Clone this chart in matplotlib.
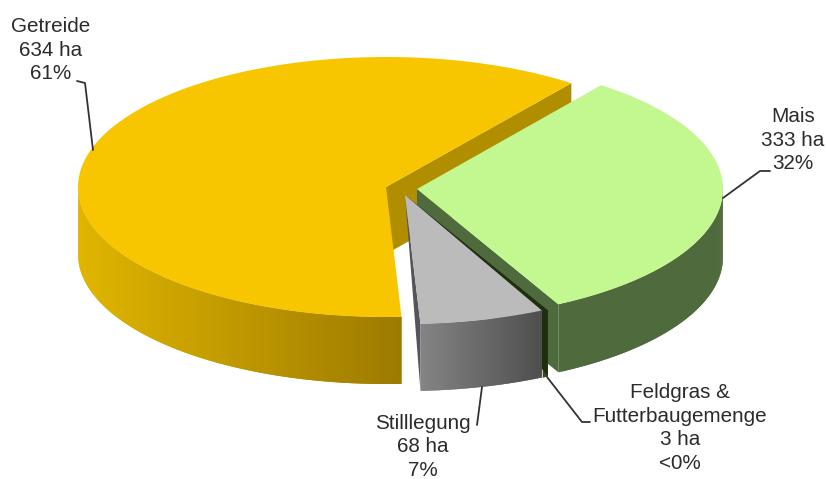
import numpy as np
import matplotlib
matplotlib.use("Agg")
import matplotlib.pyplot as plt
from matplotlib.colors import to_rgb

plt.rcParams["font.family"] = ["Liberation Sans", "DejaVu Sans"]

# Values of the chart, clockwise from the upper edge of Mais
names = ["Mais", "Feldgras &\nFutterbaugemenge", "Stilllegung", "Getreide"]
hectares = [333, 3, 68, 634]
percent_labels = ["32%", "<0%", "7%", "61%"]

# Colours of each slice: top, wall, side gradient from left to right
top_colors = ["#C3F78F", "#1F300E", "#BBBBBB", "#F7C600"]
wall_colors = ["#4F6A3C", "#1E2F0E", "#55565C", "#B18D00"]
side_left = ["#4F6A3C", "#22340F", "#848484", "#E0B500"]
side_right = ["#4F6A3C", "#22340F", "#4E4E4E", "#9C7A00"]

# Pie geometry in pixels (each slice is pulled out a bit)
centers = [(417, 189), (406, 196), (405, 195), (386, 187)]
radius_x = [306, 307, 307, 308]
radius_y = [130, 129, 129, 130]
depths = [68, 66, 67, 67]
start_angle = 53

# Text centre and leader line of each label
label_pos = [(793, 140), (680, 428), (423, 447), (51, 50)]
leaders = [
    [(770, 171), (760, 171), (723, 198)],
    [(590, 422), (582, 422), (547, 377)],
    [(477, 425), (482, 387)],
    [(77, 81), (85, 83), (93, 150)],
]

fig = plt.figure(figsize=(8.28, 4.79), dpi=100)
ax = fig.add_axes([0, 0, 1, 1])
ax.set_xlim(0, 828)
ax.set_ylim(479, 0)
ax.axis("off")


def rim(i, angle):
    # point on the top ellipse for an angle in degrees
    a = np.radians(angle)
    return centers[i][0] + radius_x[i] * np.cos(a), centers[i][1] - radius_y[i] * np.sin(a)


# Work out the start and end angle of every slice from the values
total = sum(hectares)
ends = start_angle - np.cumsum(hectares) / total * 360
begins = np.concatenate([[start_angle], ends[:-1]])


def draw_slice(i, wall_angle, full_wall):
    a0, a1 = begins[i], ends[i]
    cx, cy = centers[i]
    d = depths[i]

    # inner wall
    x, y = rim(i, wall_angle)
    if full_wall:
        ax.fill([cx, x, x, cx], [cy, y, y + d, cy + d], color=wall_colors[i], lw=0)
    else:
        ax.fill([cx, x, x], [cy, y, y + d], color=wall_colors[i], lw=0)

    # outer side, only the front half of the ellipse can be seen
    # every piece reaches over the next one so no seams show up
    lo, hi = max(a1, -180), min(a0, 0)
    steps = np.linspace(lo, hi, 90)
    xs, ys = rim(i, steps)
    c0, c1 = np.array(to_rgb(side_left[i])), np.array(to_rgb(side_right[i]))
    order = np.argsort(xs)
    xs, ys = xs[order], ys[order]
    for k in range(len(xs) - 1):
        e = min(k + 2, len(xs) - 1)
        px = np.r_[xs[k:e + 1], xs[k:e + 1][::-1]]
        py = np.r_[ys[k:e + 1], ys[k:e + 1][::-1] + d]
        t = (xs[k] - xs[0]) / (xs[-1] - xs[0])
        ax.fill(px, py, color=c0 + (c1 - c0) * t, lw=0)

    # top face
    steps = np.linspace(a0, a1, 200)
    xs, ys = rim(i, steps)
    ax.fill(np.r_[cx, xs], np.r_[cy, ys], color=top_colors[i], lw=0)


# Back to front
draw_slice(3, ends[3], True)
draw_slice(0, ends[0], True)
draw_slice(1, begins[1], False)
draw_slice(2, ends[2], False)

for i in range(len(names)):
    pts = np.array(leaders[i])
    ax.plot(pts[:, 0], pts[:, 1], color="#333333", lw=1.3, solid_capstyle="round")
    text = f"{names[i]}\n{hectares[i]} ha\n{percent_labels[i]}"
    ax.text(label_pos[i][0], label_pos[i][1], text, ha="center", va="center",
            fontsize=14.9, color="#2b2b2b", linespacing=1.29, multialignment="center")

fig.savefig("out.png", dpi=100, facecolor="white")
